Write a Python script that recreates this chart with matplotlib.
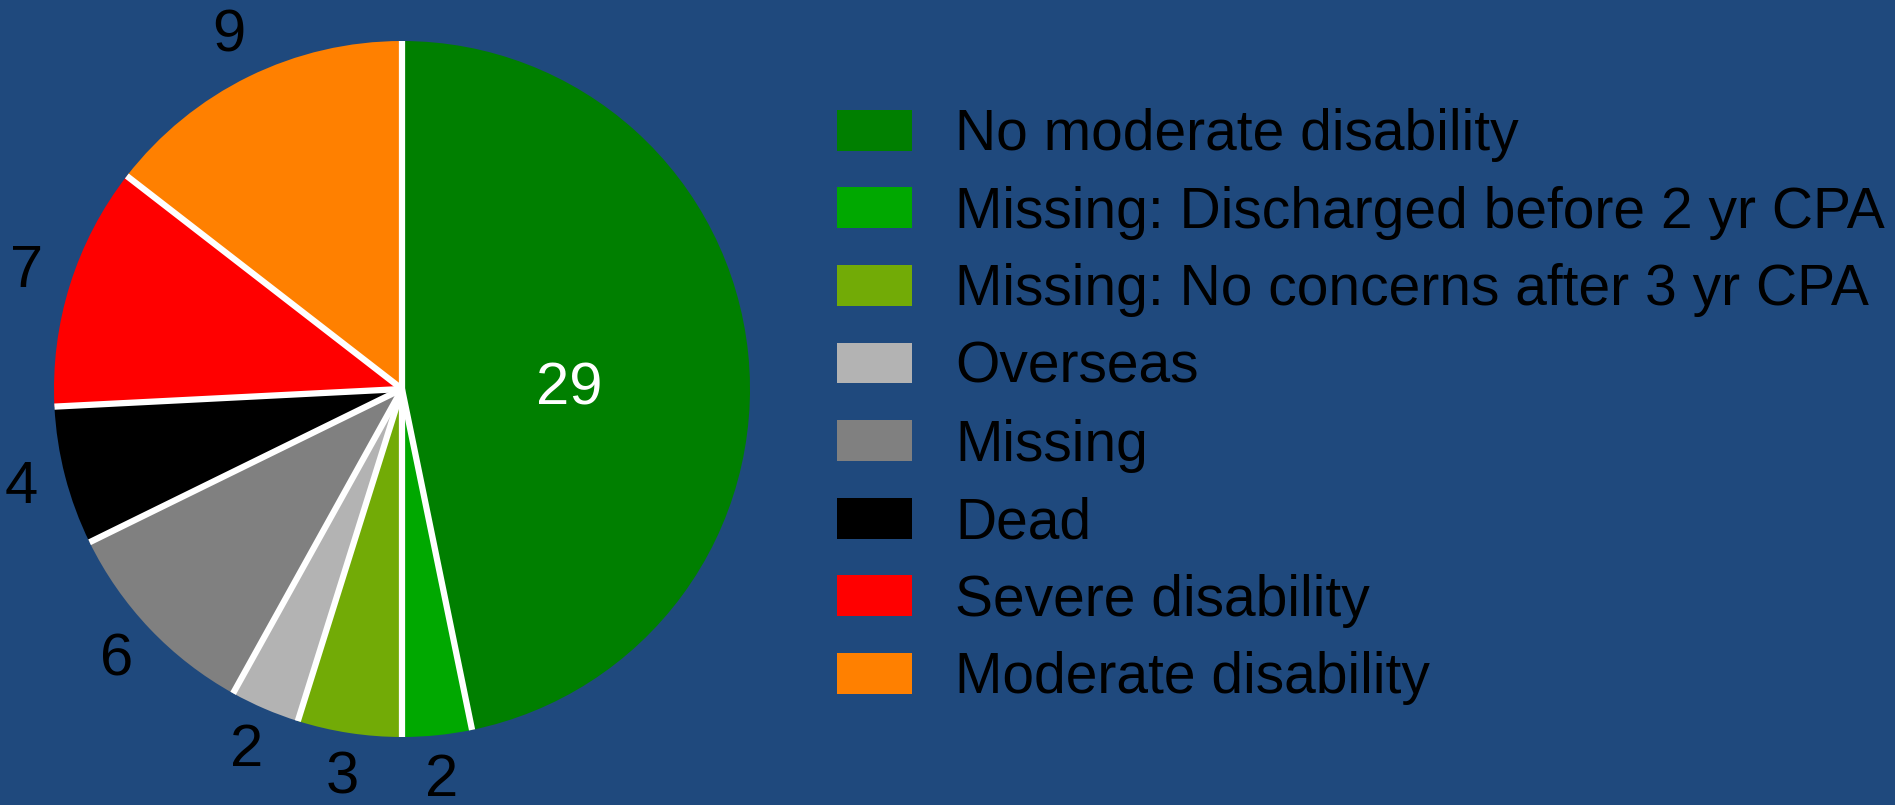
import matplotlib
matplotlib.use("Agg")
import numpy as np
import matplotlib.pyplot as plt
from matplotlib.patches import Patch

# outcome categories and counts
categories = [
    "No moderate disability",
    "Missing: Discharged before 2 yr CPA",
    "Missing: No concerns after 3 yr CPA",
    "Overseas",
    "Missing",
    "Dead",
    "Severe disability",
    "Moderate disability",
]
counts = [29, 2, 3, 2, 6, 4, 7, 9]
colors = ["#007f00", "#00a800", "#72ab06", "#b3b3b3", "#808080", "#000000", "#ff0000", "#ff8000"]

BG = "#1f497d"
plt.rcParams["font.family"] = ["Liberation Sans", "DejaVu Sans"]

fig = plt.figure(figsize=(18.95, 8.05), dpi=100, facecolor=BG)

# pie centre ~ (402, 389) px, radius ~ 348 px
W, H = 1895, 805
cx, cy, r = 402, 389, 348
ax = fig.add_axes([(cx - r) / W, (H - cy - r) / H, 2 * r / W, 2 * r / H])
ax.set_facecolor(BG)

LD = 1.13
wedges, texts = ax.pie(
    counts,
    colors=colors,
    labels=[str(c) for c in counts],
    startangle=90,
    counterclock=False,
    labeldistance=LD,
    wedgeprops=dict(edgecolor="none", linewidth=0),
    textprops=dict(fontsize=43, color="black"),
)
ax.set_xlim(-1, 1)
ax.set_ylim(-1, 1)
ax.set_aspect("equal")

# white separators between slices only (no outer rim)
bounds = 90 - 360 * np.cumsum([0] + counts[:-1]) / sum(counts)
for a in np.deg2rad(bounds):
    ax.plot([0, np.cos(a)], [0, np.sin(a)], color="white", lw=4.5,
            solid_capstyle="butt", zorder=5)

for t in texts:
    t.set_ha("center")
    t.set_va("center")

# the big slice gets its number inside, in white
big = texts[0]
big.set_position((0.48, 0.0))
big.set_color("white")
big.set_zorder(6)

handles = [Patch(facecolor=c, edgecolor="none") for c in colors]
fig.legend(
    handles,
    categories,
    loc="upper left",
    bbox_to_anchor=(837 / W, 1 - 108 / H),
    frameon=False,
    fontsize=41,
    handlelength=1.32,
    handleheight=0.73,
    handletextpad=0.75,
    labelspacing=0.415,
    borderpad=0,
    borderaxespad=0,
)

fig.savefig("out.png", dpi=100, facecolor=BG)
